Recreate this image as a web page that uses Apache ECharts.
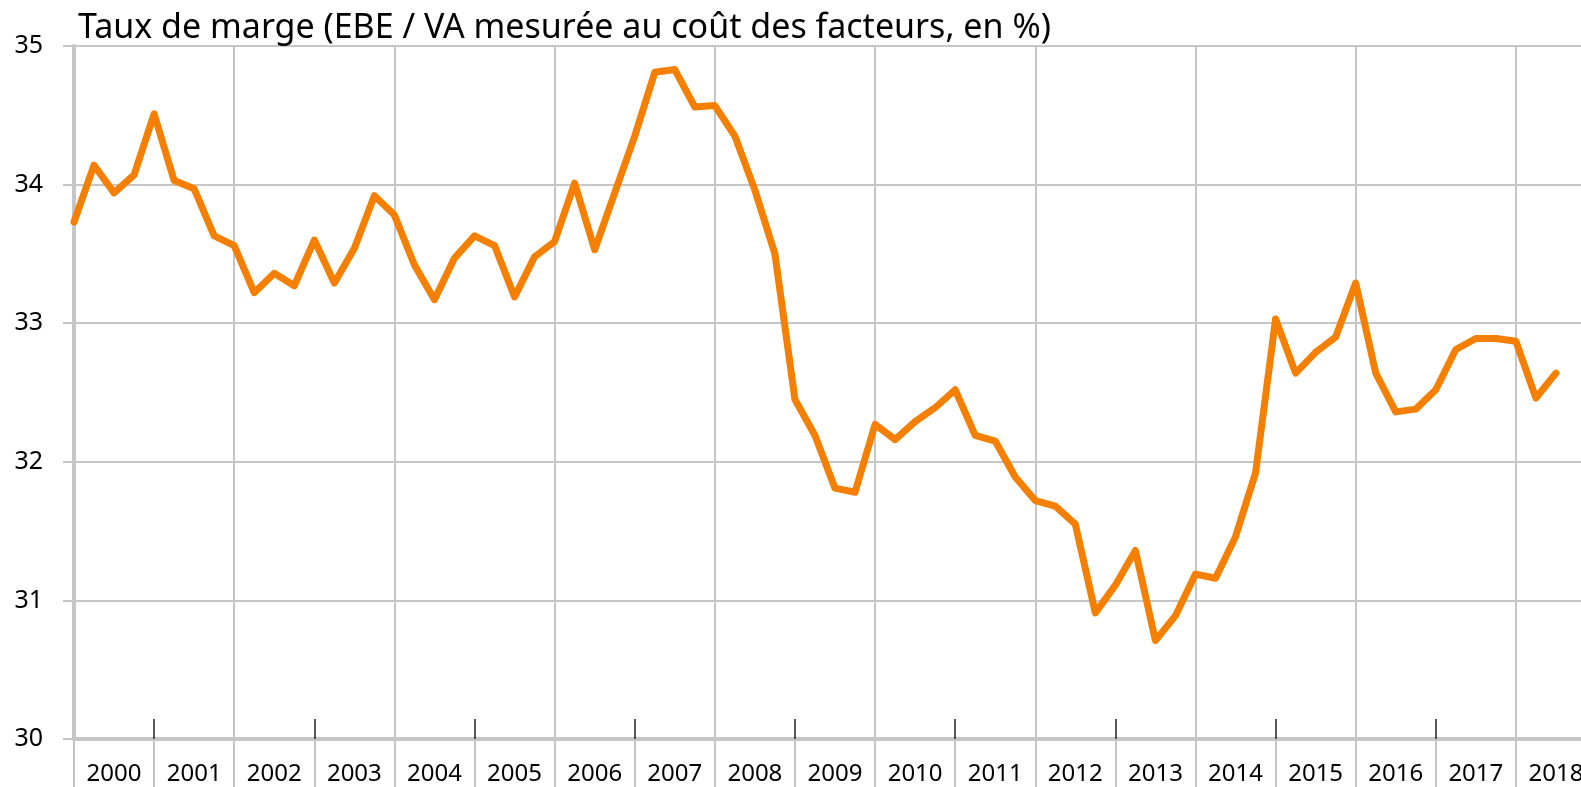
<!DOCTYPE html>
<html>
<head>
<meta charset="utf-8">
<script src="https://cdn.jsdelivr.net/npm/echarts@6/dist/echarts.min.js"></script>
<style>
  html, body { margin: 0; padding: 0; background: #fff; overflow: hidden; }
  /* the plot runs past the right edge of the window, as in the original */
  #chart { width: 1596px; height: 787px; }
</style>
</head>
<body>
<div id="chart"></div>
<script>
// taux de marge trimestriel, 2000T1 -> 2018T3
var years = ['2000', '2001', '2002', '2003', '2004', '2005', '2006', '2007', '2008', '2009',
  '2010', '2011', '2012', '2013', '2014', '2015', '2016', '2017', '2018']
var margin = [
  33.73, 34.14, 33.94, 34.07,
  34.51, 34.03, 33.97, 33.63,
  33.56, 33.22, 33.36, 33.27,
  33.60, 33.29, 33.54, 33.92,
  33.78, 33.42, 33.17, 33.47,
  33.63, 33.56, 33.19, 33.48,
  33.59, 34.01, 33.53, 33.94,
  34.35, 34.81, 34.83, 34.56,
  34.57, 34.35, 33.96, 33.50,
  32.45, 32.19, 31.81, 31.78,
  32.27, 32.16, 32.29, 32.39,
  32.52, 32.19, 32.15, 31.89,
  31.72, 31.68, 31.55, 30.91,
  31.11, 31.36, 30.71, 30.89,
  31.19, 31.16, 31.46, 31.92,
  33.03, 32.64, 32.79, 32.90,
  33.29, 32.64, 32.36, 32.38,
  32.52, 32.81, 32.89, 32.89,
  32.87, 32.46, 32.64
]

// one category per quarter, plus the closing 2019T1 edge
var quarters = []
years.forEach(function (y) {
  for (var q = 1; q <= 4; q++) quarters.push(y + 'T' + q)
})
quarters.push('2019T1')

var grey = '#c6c6c6'
var font = 'Noto Sans'

var chart = echarts.init(document.getElementById('chart'))
chart.setOption({
  animation: false,
  title: {
    text: 'Taux de marge (EBE / VA mesurée au coût des facteurs, en %)',
    left: 73,
    top: 6,
    textStyle: { fontFamily: font, fontSize: 34, fontWeight: 'normal', color: '#000' }
  },
  grid: { left: 74, right: 0, top: 46, bottom: 48, containLabel: false },
  xAxis: [
    {
      // quarters, carries the data and the vertical grid (every 2 years)
      type: 'category',
      position: 'bottom',
      data: quarters,
      boundaryGap: false,
      axisLine: { show: false },
      axisTick: { show: false },
      axisLabel: { show: false },
      splitLine: {
        show: true,
        interval: function (i) { return i % 8 === 0 },
        lineStyle: { color: grey, width: 2 }
      }
    },
    {
      // year labels and separators under the axis
      type: 'category',
      position: 'bottom',
      data: years,
      boundaryGap: true,
      axisLine: { show: true, lineStyle: { color: grey, width: 4 } },
      axisTick: { show: true, interval: 0, length: 50, lineStyle: { color: grey, width: 2 } },
      axisLabel: { interval: 0, margin: 23, fontFamily: font, fontSize: 24, color: '#000' },
      splitLine: { show: false }
    },
    {
      // short dark ticks every other year
      type: 'category',
      position: 'bottom',
      data: years,
      boundaryGap: true,
      axisLine: { show: false },
      axisTick: {
        show: true,
        inside: true,
        length: 20,
        interval: function (i) { return i % 2 === 1 },
        lineStyle: { color: '#222', width: 1.5 }
      },
      axisLabel: { show: false },
      splitLine: { show: false }
    }
  ],
  yAxis: {
    type: 'value',
    min: 30,
    max: 35,
    interval: 1,
    axisLine: { show: true, lineStyle: { color: grey, width: 4 } },
    axisTick: { show: true, length: 11, lineStyle: { color: grey, width: 2 } },
    axisLabel: { margin: 31, fontFamily: font, fontSize: 25, color: '#000' },
    splitLine: { show: true, lineStyle: { color: grey, width: 2 } }
  },
  series: [{
    name: 'Taux de marge',
    type: 'line',
    xAxisIndex: 0,
    data: margin,
    showSymbol: false,
    lineStyle: { color: '#f57f00', width: 7, cap: 'round', join: 'round' },
    z: 5
  }]
})
</script>
</body>
</html>
